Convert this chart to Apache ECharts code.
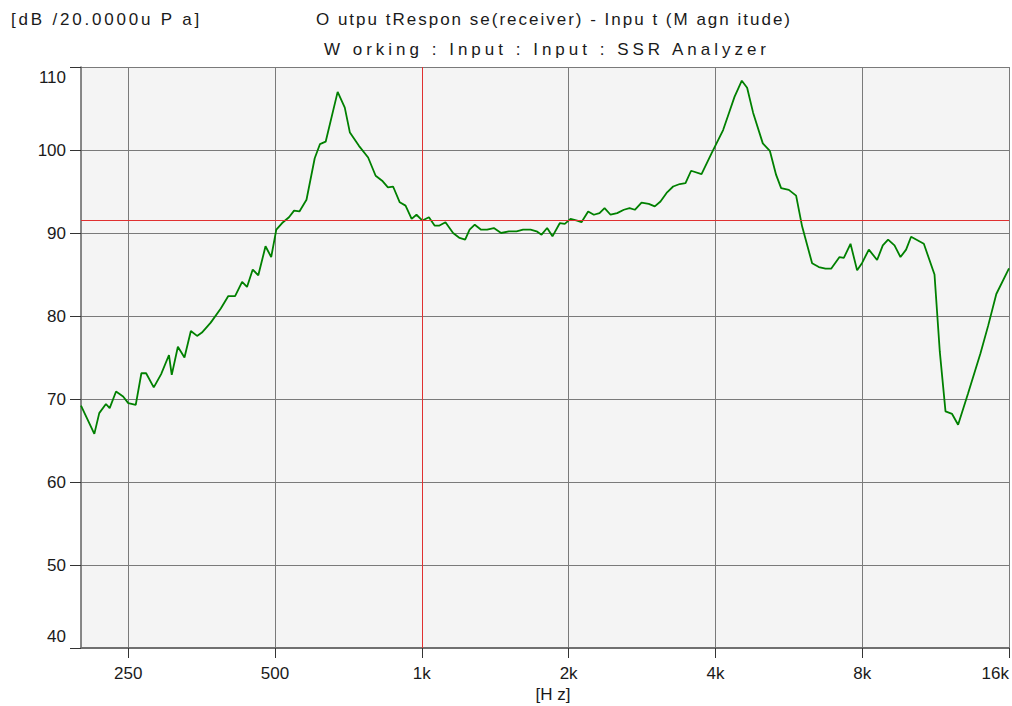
<!DOCTYPE html>
<html>
<head>
<meta charset="utf-8">
<script src="https://cdn.jsdelivr.net/npm/echarts@6.0.0/dist/echarts.min.js"></script>
<style>
html,body{margin:0;padding:0;background:#fff;}
#chart{width:1012px;height:706px;}
</style>
</head>
<body>
<div id="chart"></div>
<script>
// Frequency response
const freqHz = [200,213,218,225,229,236,244,250,259,266,272,282,292,303,307,316,326,336,346,354,369,387,401,414,428,438,450,462,478,491,503,517,534,547,561,580,603,618,635,672,695,712,743,776,804,829,852,873,901,926,953,975,1003,1034,1062,1087,1118,1159,1195,1227,1253,1284,1323,1361,1405,1454,1508,1564,1613,1671,1719,1760,1807,1853,1919,1964,2018,2082,2125,2193,2253,2314,2370,2438,2515,2596,2667,2734,2822,2920,3004,3086,3184,3276,3381,3473,3566,3746,3927,4148,4261,4377,4531,4646,4779,5003,5172,5328,5455,5657,5855,6023,6315,6518,6727,6908,7187,7335,7570,7810,7996,8254,8583,8817,9040,9318,9585,9842,10077,10702,11255,11540,11855,12230,12582,13191,13985,14511,15070,16000];
const levelDb = [69.2,65.8,68.3,69.4,68.9,70.9,70.3,69.5,69.3,73.1,73.1,71.4,73.0,75.3,72.9,76.3,75.0,78.2,77.6,78.0,79.2,80.9,82.4,82.4,84.1,83.5,85.6,84.9,88.4,87.1,90.4,91.2,91.9,92.7,92.6,94.0,99.0,100.7,101.0,107.0,105.1,102.1,100.5,99.1,96.9,96.3,95.5,95.6,93.7,93.3,91.7,92.2,91.5,91.9,90.9,90.9,91.3,90.0,89.4,89.2,90.4,91.0,90.4,90.4,90.6,90.0,90.2,90.2,90.4,90.4,90.2,89.8,90.6,89.6,91.2,91.1,91.7,91.5,91.3,92.6,92.2,92.4,93.0,92.2,92.4,92.8,93.0,92.8,93.65,93.5,93.2,93.8,94.9,95.6,95.9,96.0,97.5,97.1,99.6,102.4,104.4,106.4,108.35,107.5,104.5,100.8,99.9,97.0,95.4,95.2,94.5,90.8,86.35,85.9,85.7,85.7,87.1,87.0,88.7,85.5,86.4,88.0,86.75,88.5,89.2,88.5,87.1,88.0,89.55,88.7,85.0,75.7,68.5,68.2,66.9,70.7,75.5,78.9,82.65,85.75];

const xTickValues = [250,500,1000,2000,4000,8000,16000];
const xTickLabels = ['250','500','1k','2k','4k','8k','16k'];
const yTickValues = [40,50,60,70,80,90,100,110];
const cursorFreq = 1000;
const cursorLevel = 91.5;

const titleLine1 = 'O utpu tRespon se(receiver) - Inpu t (M agn itude)';
const titleLine2 = 'W orking : Input : Input : SSR Analyzer';
const yUnit = '[dB /20.0000u P a]';
const xUnit = '[H z]';

const FONT = '"Liberation Sans", Arial, sans-serif';
const TXT = '#1a1a1a';

const chart = echarts.init(document.getElementById('chart'), null, {renderer:'svg'});
const lblStyle = {fontSize:17, color:TXT, fontFamily:FONT};
const tStyle = {fontSize:17, fontWeight:'normal', color:TXT, fontFamily:FONT};

chart.setOption({
  animation:false,
  backgroundColor:'#ffffff',
  title:[
    {text:titleLine1, left:549, top:6, textAlign:'center', textStyle:tStyle},
    {text:titleLine2, left:542, top:36, textAlign:'center', textStyle:tStyle},
    {text:yUnit, left:6, top:6, textStyle:tStyle},
    {text:xUnit, left:548, top:681, textAlign:'center', textStyle:tStyle}
  ],
  grid:{left:81, right:2, top:67, bottom:58, show:true, backgroundColor:'#f4f4f4', borderWidth:0, containLabel:false},
  xAxis:{
    type:'log', logBase:2, min:200, max:16000,
    axisLine:{show:true, onZero:false, lineStyle:{color:'#707070', width:2}},
    axisTick:{show:true, length:10, customValues:xTickValues, lineStyle:{color:'#333', width:1}},
    axisLabel:{show:true, customValues:xTickValues, margin:17, alignMaxLabel:'right', ...lblStyle,
      formatter:function(v){ const i = xTickValues.indexOf(Math.round(v)); return i>=0 ? xTickLabels[i] : ''; }},
    splitLine:{show:true, lineStyle:{color:'#7a7a7a', width:1}},
    minorTick:{show:false}, minorSplitLine:{show:false}
  },
  yAxis:{
    type:'value', min:40, max:110, interval:10,
    axisLine:{show:true, lineStyle:{color:'#606060', width:1.5}},
    axisTick:{show:true, length:11, lineStyle:{color:'#333', width:1}},
    axisLabel:{margin:15, ...lblStyle,
      formatter:function(v){ if(v===110) return '{mx|'+v+'}'; if(v===40) return '{mn|'+v+'}'; return '{n|'+v+'}'; },
      rich:{
        n:{fontSize:17, color:TXT, fontFamily:FONT},
        mx:{fontSize:17, color:TXT, fontFamily:FONT, padding:[20,0,0,0]},
        mn:{fontSize:17, color:TXT, fontFamily:FONT, padding:[0,0,24,0]}
      }},
    splitLine:{show:true, lineStyle:{color:'#7a7a7a', width:1}}
  },
  series:[{
    type:'line',
    data:freqHz.map((f,i)=>[f, levelDb[i]]),
    showSymbol:false, symbol:'none',
    lineStyle:{color:'#008000', width:1.8},
    itemStyle:{color:'#008000'},
    clip:true,
    markLine:{
      silent:true, symbol:['none','none'], label:{show:false},
      lineStyle:{color:'#e03030', type:'solid', width:1},
      data:[{xAxis:cursorFreq},{yAxis:cursorLevel}]
    },
    z:3
  }]
});

// The reference prints its header texts with wide character spacing
const spacing = {};
spacing[titleLine1] = '2px';
spacing[titleLine2] = '4px';
spacing[yUnit] = '2.8px';
function applySpacing(){
  document.querySelectorAll('#chart svg text').forEach(function(t){
    const s = spacing[t.textContent];
    if (s) t.style.letterSpacing = s;
  });
}
try { chart.getZr().refreshImmediately(); } catch(e) {}
applySpacing();
chart.on('finished', applySpacing);
setTimeout(applySpacing, 50);
</script>
</body>
</html>
